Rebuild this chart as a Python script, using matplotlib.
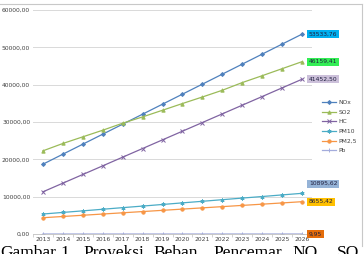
import numpy as np
import matplotlib
matplotlib.use("Agg")
import matplotlib.pyplot as plt
from matplotlib.lines import Line2D

# Data
years = ['2013', '2014', '2015', '2016', '2017', '2018', '2019',
         '2020', '2021', '2022', '2023', '2024', '2025', '2026']
nox = [18700, 21380, 24060, 26740, 29420, 32100, 34780,
       37460, 40140, 42820, 45500, 48180, 50860, 53533.76]
so2 = [22280, 24250, 26030, 27800, 29680, 31370, 33150,
       34950, 36700, 38500, 40560, 42400, 44280, 46159.41]
hc = [11300, 13620, 15940, 18260, 20580, 22900, 25220,
      27540, 29860, 32180, 34500, 36820, 39140, 41452.50]
pm10 = [5350, 5780, 6200, 6630, 7060, 7480, 7910,
        8340, 8760, 9190, 9620, 10040, 10470, 10895.62]
pm25 = [4360, 4690, 5020, 5350, 5680, 6010, 6340,
        6670, 7000, 7330, 7660, 7990, 8320, 8655.42]
pb = [5.6, 5.9, 6.2, 6.6, 6.9, 7.2, 7.6,
      7.9, 8.2, 8.6, 8.9, 9.2, 9.6, 9.95]

series_names = ['NOx', 'SO2', 'HC', 'PM10', 'PM2,5', 'Pb']
end_labels = ['53533,76', '46159,41', '41452,50', '10895,62', '8655,42', '9,95']

fig = plt.figure(figsize=(3.64, 2.54), dpi=100)
ax = fig.add_axes([33/364, 20/254, 279/364, 224/254])

x = np.arange(len(years))
fs = 4.3

styles = [
    (nox, '#4f81bd', 'D', 2.0, '#00b0f0', 0),
    (so2, '#9bbb59', '^', 2.4, '#33ee55', 0),
    (hc, '#8064a2', 'x', 2.4, '#ccc0da', 0),
    (pm10, '#4bacc6', (6, 2, 0), 2.8, '#95b3d7', 7),
    (pm25, '#f79646', 'o', 2.4, '#ffc000', 0),
    (pb, '#a4acdc', '+', 2.4, '#e46c0a', 0),
]

for (vals, col, mk, ms, boxcol, dy), name, lab in zip(styles, series_names, end_labels):
    ax.plot(x, vals, color=col, marker=mk, markersize=ms, lw=0.9,
            markeredgewidth=0.7, label=name)
    ax.annotate(lab, xy=(x[-1], vals[-1]), xytext=(5, dy), textcoords='offset points',
                fontsize=fs, va='center', ha='left', color='#1f1f3f',
                bbox=dict(boxstyle='square,pad=0.25', fc=boxcol, ec='none'),
                annotation_clip=False)

ax.set_xlim(-0.5, 13.5)
ax.set_ylim(0, 60000)
ax.set_yticks(np.arange(0, 60001, 10000))
ax.set_yticklabels([f"{v},00" for v in range(0, 60001, 10000)], fontsize=fs, color='#404040')
ax.set_xticks(x)
ax.set_xticklabels(years, fontsize=fs, color='#404040')
ax.tick_params(axis='both', length=0, pad=2)
ax.set_xticks(np.arange(-0.5, 14, 1), minor=True)
ax.tick_params(axis='x', which='minor', length=2, color='#bfbfbf', width=0.5)
ax.grid(axis='y', color='#d9d9d9', lw=0.7)
ax.set_axisbelow(True)
for s in ['top', 'right', 'left']:
    ax.spines[s].set_visible(False)
ax.spines['bottom'].set_color('#bfbfbf')
ax.spines['bottom'].set_linewidth(0.6)

fig.legend(loc='upper left', bbox_to_anchor=(319/364, 1 - 97/254), frameon=False,
           fontsize=fs, handlelength=2.4, labelspacing=0.75, borderpad=0,
           handletextpad=0.4, labelcolor='#404040')

# chart area border (top and right)
fig.add_artist(Line2D([0, 362/364], [1 - 4/254, 1 - 4/254], color='#c8c8c8', lw=0.8,
                      transform=fig.transFigure))
fig.add_artist(Line2D([362/364, 362/364], [1 - 4/254, 1 - 246/254], color='#c8c8c8', lw=0.8,
                      transform=fig.transFigure))

# caption (cut off at bottom of the image)
caption_words = ['Gambar', '1.', 'Proyeksi', 'Beban', 'Pencemar', 'NO', 'SO']
caption_x = [0, 60, 83, 153, 213, 292, 337]
for w, px in zip(caption_words, caption_x):
    fig.text(px/364, 1 - 257/254, w, fontsize=12.5, family='Liberation Serif',
             va='baseline', ha='left', color='black')

fig.savefig('out.png', dpi=100)
